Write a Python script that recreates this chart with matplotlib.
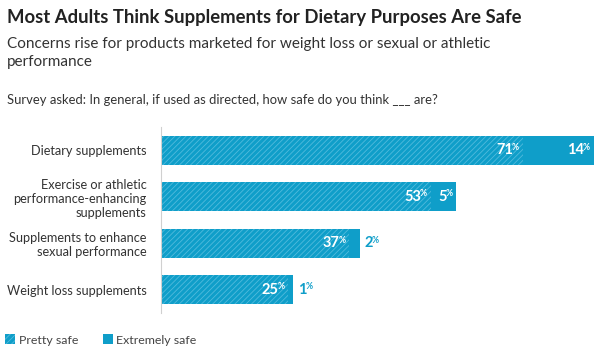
import matplotlib
matplotlib.use("Agg")
import matplotlib.pyplot as plt
from matplotlib.patches import Patch

categories = [
    "Dietary supplements",
    "Exercise or athletic\nperformance-enhancing\nsupplements",
    "Supplements to enhance\nsexual performance",
    "Weight loss supplements",
]
pretty_safe = [71, 53, 37, 25]
extremely_safe = [14, 5, 2, 1]

blue = "#0f9ec9"
hatch_blue = "#52bbdd"

plt.rcParams["font.family"] = ["Lato", "DejaVu Sans"]
plt.rcParams["hatch.linewidth"] = 0.6

fig = plt.figure(figsize=(6.02, 3.5), dpi=100)
ax = fig.add_axes([161 / 602, 1 - 313 / 350, (594 - 161) / 602, 186 / 350])

y = list(range(len(categories)))
ax.barh(y, pretty_safe, height=0.62, color=blue, edgecolor=hatch_blue,
        hatch="//////", linewidth=0)
ax.barh(y, extremely_safe, left=pretty_safe, height=0.62, color=blue, linewidth=0)

ax.set_xlim(0, 85)
ax.set_ylim(3.5, -0.5)
ax.set_yticks(y, categories, fontsize=9.15, color="#333333")
ax.tick_params(axis="y", length=0, pad=10.5)
ax.set_xticks([])
for lbl in ax.get_yticklabels():
    lbl.set_multialignment("right")
    lbl.set_linespacing(1.2)
for s in ["top", "right", "bottom"]:
    ax.spines[s].set_visible(False)
ax.spines["left"].set_color("#d0d0d0")
ax.spines["left"].set_linewidth(0.8)


def inside_label(end, yi, val):
    pct = ax.annotate("%", xy=(end, yi), xytext=(-4, 3), textcoords="offset pixels",
                      ha="right", va="center", fontsize=6.2, fontweight="bold", color="white")
    ax.annotate(str(val), xy=(0, yi), xycoords=(pct, "data"), xytext=(1.5, 0),
                textcoords="offset pixels", ha="right", va="center",
                fontsize=10.5, fontweight="bold", color="white")


def outside_label(end, yi, val):
    num = ax.annotate(str(val), xy=(end, yi), xytext=(5, 0), textcoords="offset pixels",
                      ha="left", va="center", fontsize=10.5, fontweight="bold", color=blue)
    ax.annotate("%", xy=(1, yi), xycoords=(num, "data"), xytext=(-1, 3),
                textcoords="offset pixels", ha="left", va="center",
                fontsize=6.2, fontweight="bold", color=blue)


for yi, p, e in zip(y, pretty_safe, extremely_safe):
    inside_label(p, yi, p)
    if e >= 5:
        inside_label(p + e, yi, e)
    else:
        outside_label(p + e, yi, e)

fig.text(7 / 602, 1 - 17 / 350, "Most Adults Think Supplements for Dietary Purposes Are Safe",
         fontsize=13.3, fontweight="bold", color="#222222", va="center")
fig.text(7 / 602, 1 - 53 / 350,
         "Concerns rise for products marketed for weight loss or sexual or athletic\nperformance",
         fontsize=11.0, color="#333333", va="center", linespacing=1.3)
fig.text(7 / 602, 1 - 100 / 350,
         "Survey asked: In general, if used as directed, how safe do you think ___ are?",
         fontsize=9.4, color="#333333", va="center")

handles = [
    Patch(facecolor=blue, edgecolor=hatch_blue, hatch="//////", linewidth=0, label="Pretty safe"),
    Patch(facecolor=blue, linewidth=0, label="Extremely safe"),
]
fig.legend(handles=handles, loc="center left", bbox_to_anchor=(0, 1 - 340 / 350),
           ncol=2, frameon=False, fontsize=8.9, handlelength=0.8, handleheight=0.8,
           handletextpad=0.3, columnspacing=2.0, labelcolor="#444444", borderaxespad=0,
           borderpad=0.4)

fig.savefig("out.png", dpi=100)
